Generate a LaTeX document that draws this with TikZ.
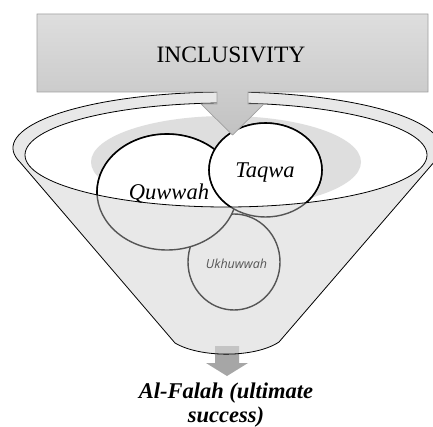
\documentclass[tikz,border=0pt]{standalone}
\usepackage{fontspec}
\setmainfont{Liberation Serif}
\newfontfamily\labelsans{Open Sans}
\usetikzlibrary{calc}
\definecolor{funnelgray}{HTML}{E8E8E8}
\definecolor{blobgray}{HTML}{DEDEDE}
\definecolor{ringgray}{HTML}{555555}
\definecolor{arrowgray}{HTML}{A6A6A6}
\definecolor{calloutedge}{HTML}{A0A0A0}
\begin{document}
\begin{tikzpicture}[x=1pt,y=1pt,
  rim/.style={draw=black, line width=0.8pt},
  ringin/.style={draw=black, line width=1.6pt, fill=white},
  ringout/.style={draw=ringgray, line width=1.4pt, fill=funnelgray},
  serifit/.style={font=\fontsize{22.5}{24}\itshape, inner sep=0pt, anchor=base},
]
% page frame
\path[fill=white] (0,0) rectangle (433,426);
\useasboundingbox (0,0) rectangle (433,426);

% key points
\coordinate (rimc) at (227,278);
\coordinate (mouthc) at (226,271);
\coordinate (qc) at (167,234);
\coordinate (tc) at (265.5,256);
\coordinate (uc) at (234,164);
\coordinate (spoutl) at (175,83);
\coordinate (spoutr) at (279,84);

% outlet arrow (seen through the funnel)
\path[fill=arrowgray] (215,80) -- (239,80) -- (239,63) -- (248,63)
  -- (227,50) -- (206,63) -- (215,63) -- cycle;

% funnel body
\path[rim, fill=black!15, fill opacity=0.6]
  ($(rimc)+(195:214 and 56)$) coordinate (rimL)
  arc[start angle=195, end angle=-15, x radius=214, y radius=56]
  coordinate (rimR)
  -- (spoutr) .. controls (255,68) and (200,68) .. (spoutl) -- cycle;

% funnel mouth
\path[fill=white] (mouthc) ellipse[x radius=201, y radius=52];
\begin{scope}
  \clip (mouthc) ellipse[x radius=201, y radius=52];
  \path[fill=blobgray] (226,264) ellipse[x radius=135, y radius=46];
\end{scope}

% Ukhuwwah
\path[ringout] (uc) ellipse[x radius=46, y radius=48];
\node[font=\labelsans\fontsize{12.5}{14}\itshape, text=ringgray,
  inner sep=0pt, anchor=base] (ukh) at (236.5,158) {Ukhuwwah};

% Quwwah
\path[ringout] (qc) ellipse[x radius=70, y radius=58];
\node[serifit, text=ringgray] (quwo) at (169,226) {Quwwah};
\begin{scope}
  \clip (mouthc) ellipse[x radius=201, y radius=52];
  \path[ringin] (qc) ellipse[x radius=70, y radius=58];
  \node[serifit] (quw) at (169,226) {Quwwah};
\end{scope}

% Taqwa
\path[ringout] (tc) ellipse[x radius=56.5, y radius=47];
\begin{scope}
  \clip (mouthc) ellipse[x radius=201, y radius=52];
  \path[ringin] (tc) ellipse[x radius=56.5, y radius=47];
\end{scope}
\node[serifit] (taq) at (265,248) {Taqwa};

% mouth outline
\path[rim] (mouthc) ellipse[x radius=201, y radius=52];

% callout
\path[draw=calloutedge, line width=0.7pt, top color=black!13, bottom color=black!24]
  (37,412) -- (428,412) -- (428,334) -- (248,334) -- (248,322) -- (264,322)
  -- (232.5,291) coordinate (tip) -- (201,322) -- (217,322) -- (217,334)
  -- (37,334) -- cycle;
\node[font=\fontsize{23.5}{26}\selectfont, inner sep=0pt, anchor=base]
  (incl) at (231,363) {INCLUSIVITY};

% result (base anchor sits on the last line)
\node[font=\fontsize{22.5}{24}\bfseries\itshape, align=center, inner sep=0pt,
  anchor=base] (falah) at (226,4) {Al-Falah (ultimate\\success)};
\end{tikzpicture}
\end{document}
